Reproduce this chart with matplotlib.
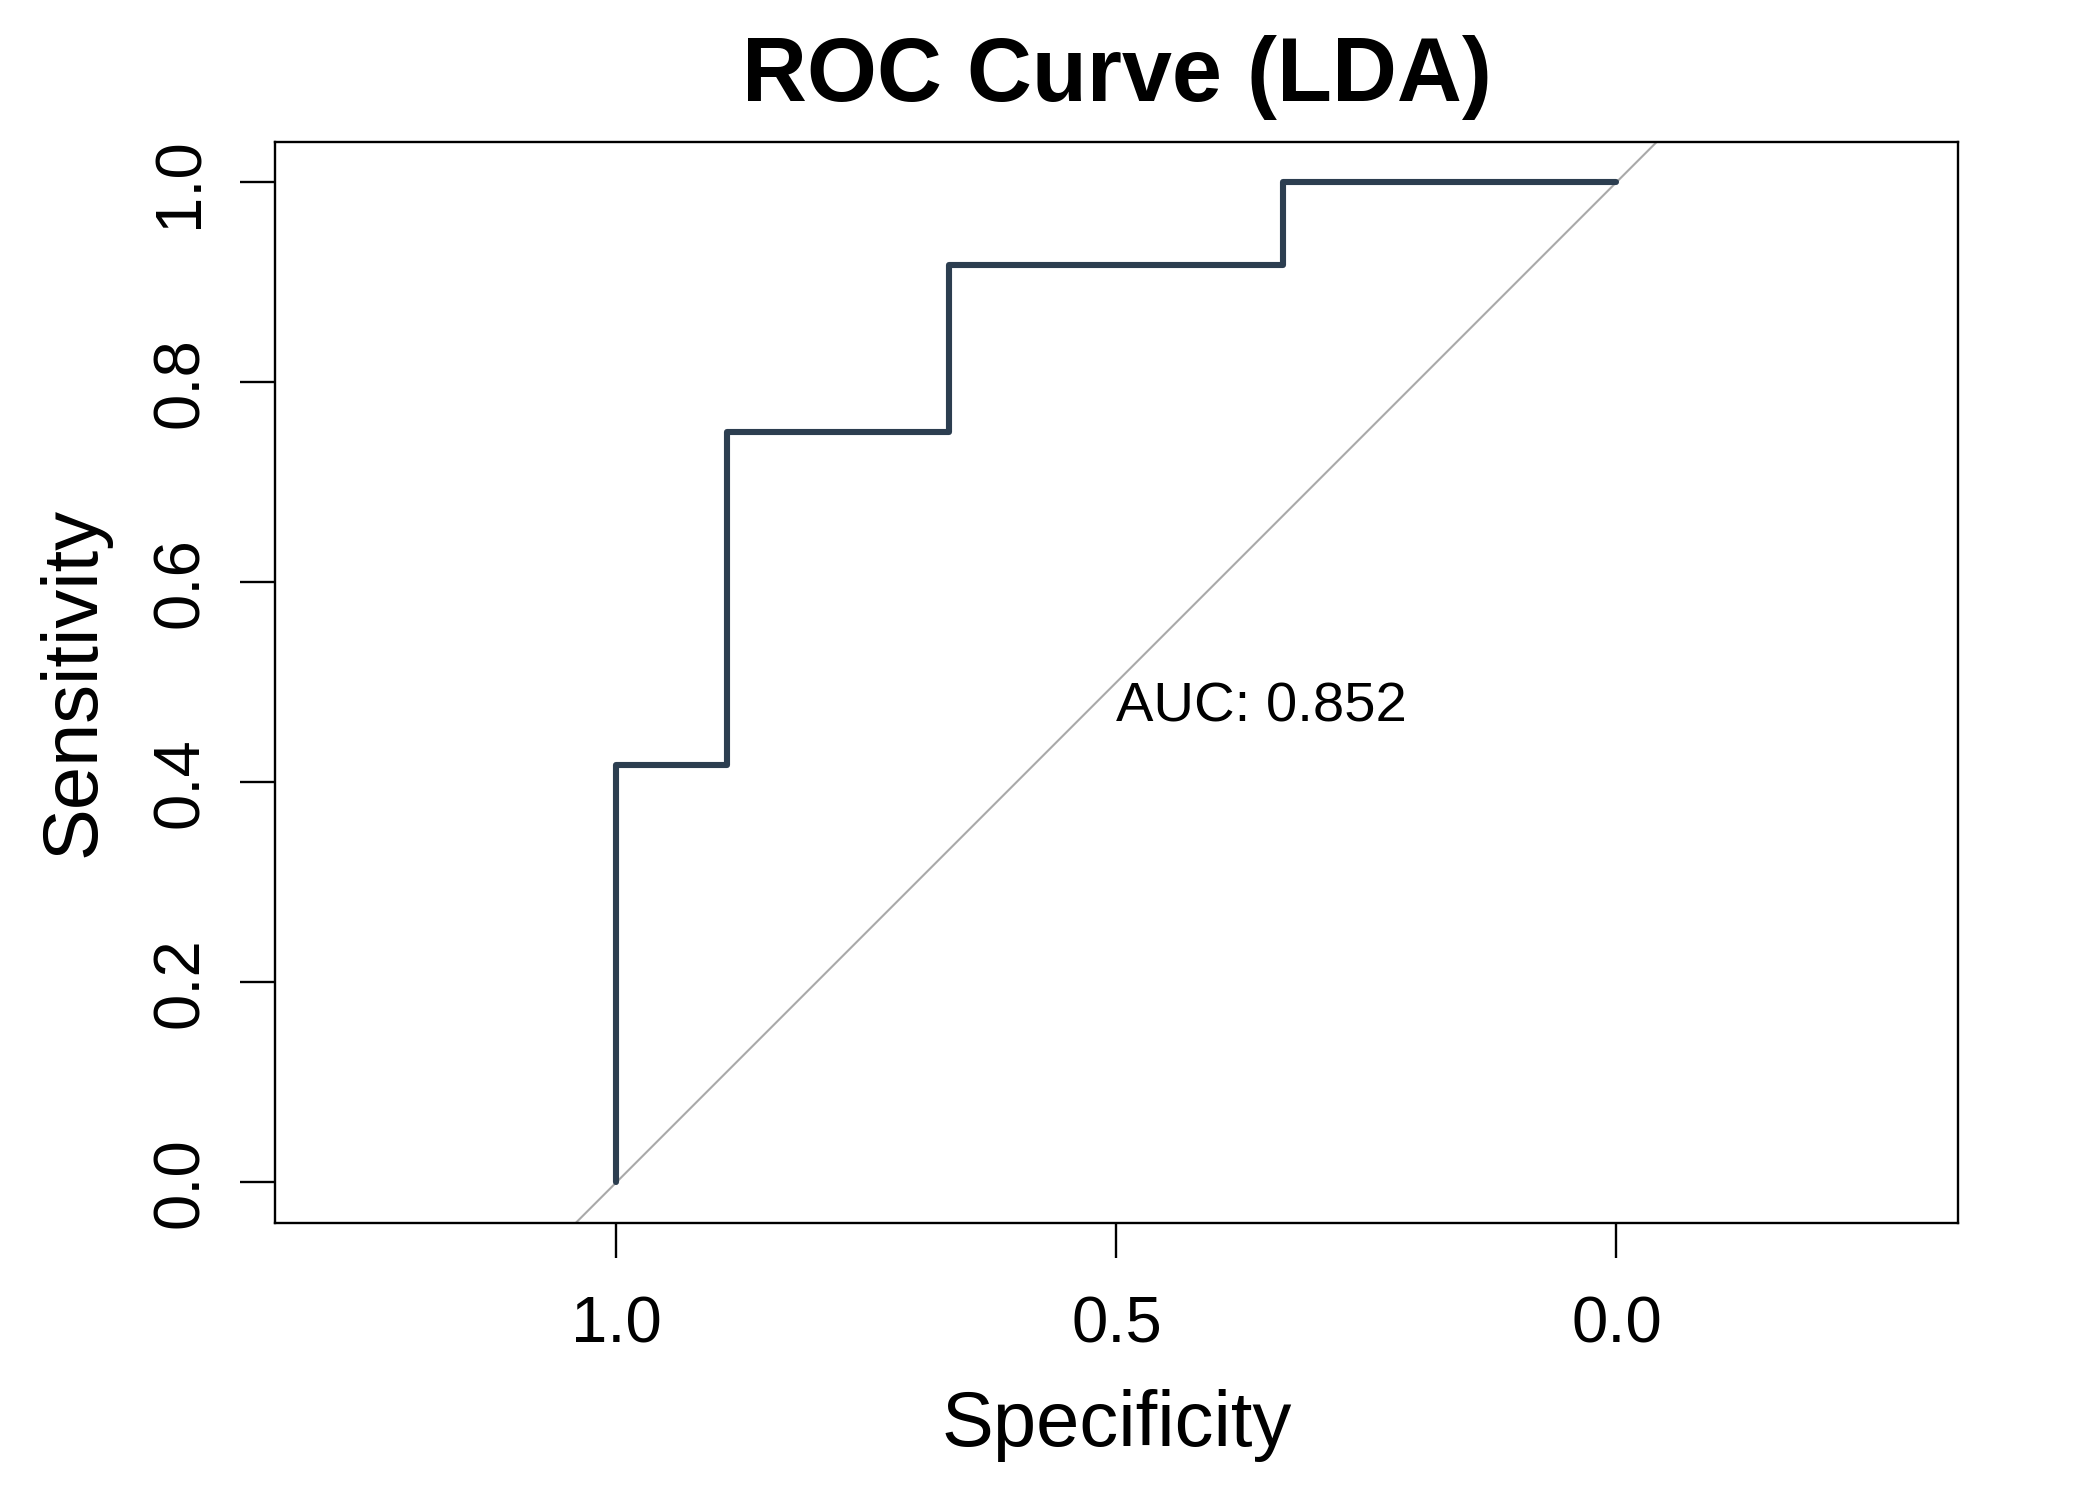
import matplotlib
matplotlib.use("Agg")
from matplotlib import pyplot as plt

plt.rcParams['font.family'] = ['Liberation Sans', 'DejaVu Sans']

# ROC points (specificity, sensitivity)
specificity = [1.0, 1.0, 0.889, 0.889, 0.667, 0.667, 0.333, 0.333, 0.0]
sensitivity = [0.0, 0.417, 0.417, 0.75, 0.75, 0.917, 0.917, 1.0, 1.0]
auc_value = 0.852

x_ticks = [1.0, 0.5, 0.0]
y_ticks = [0.0, 0.2, 0.4, 0.6, 0.8, 1.0]

fig = plt.figure(figsize=(10.495, 7.495), dpi=200)
ax = fig.add_axes([0.1312, 0.1843, 0.8014, 0.7212])

# diagonal reference line
ax.axline((1, 0), (0, 1), color='#a9a9a9', lw=0.75, zorder=1)
# ROC curve
ax.plot(specificity, sensitivity, color='#2c3e50', lw=2.2,
        solid_capstyle='round', solid_joinstyle='round', zorder=2)

ax.text(0.5, 0.4605, 'AUC: %.3f' % auc_value, ha='left', va='baseline',
        fontsize=20.2)

ax.set_xlim(1.341, -0.341)
ax.set_ylim(-0.0405, 1.0405)

ax.set_xticks(x_ticks)
ax.set_xticklabels(['%.1f' % v for v in x_ticks])
ax.set_yticks(y_ticks)
ax.set_yticklabels(['%.1f' % v for v in y_ticks], rotation=90, va='center')

ax.tick_params(axis='both', direction='out', length=12.6, width=0.85,
               labelsize=23.5)
ax.tick_params(axis='x', pad=13.5)
ax.tick_params(axis='y', pad=10.7)

for sp in ax.spines.values():
    sp.set_linewidth(0.85)

ax.set_xlabel('Specificity', fontsize=28)
ax.set_ylabel('Sensitivity', fontsize=28)
ax.xaxis.set_label_coords(0.5, -0.154)
ax.yaxis.set_label_coords(-0.098, 0.5)

ax.set_title('ROC Curve (LDA)', fontsize=32.4, fontweight='bold', pad=14.8)

fig.savefig('out.png', dpi=200, facecolor='white')
